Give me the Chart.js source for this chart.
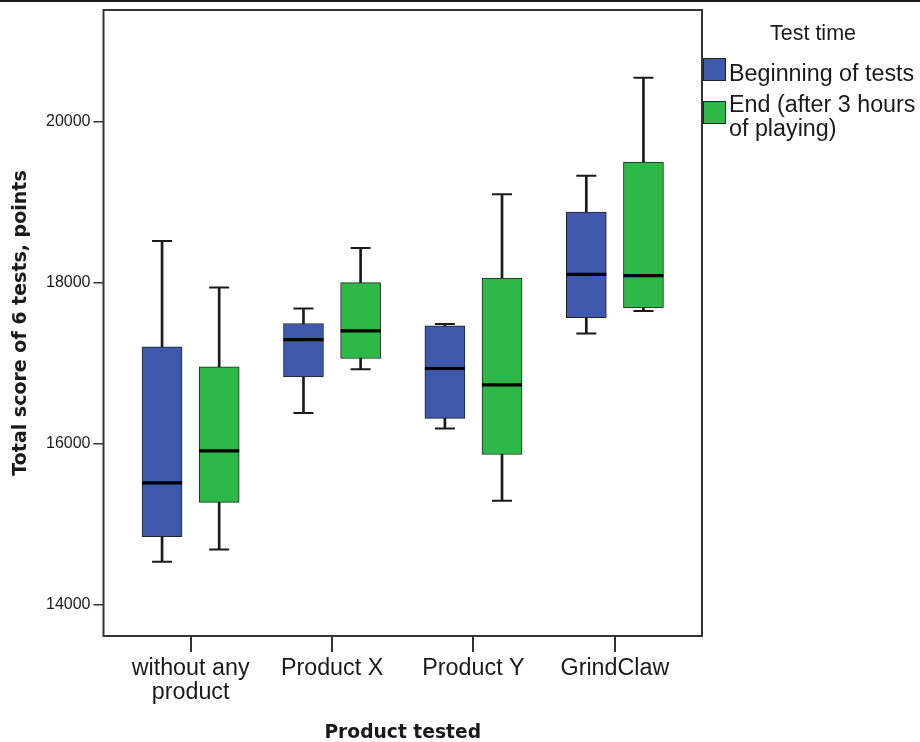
<!DOCTYPE html>
<html>
<head>
<meta charset="utf-8">
<script src="https://cdn.jsdelivr.net/npm/chart.js@4.4.1/dist/chart.umd.min.js"></script>
<style>
  html, body { margin: 0; padding: 0; background: #fff; }
  #wrap { position: relative; width: 920px; height: 742px; overflow: hidden; }
  #topRule { position: absolute; left: 0; top: 0; width: 920px; height: 2px; background: #1a1a1a; }
  #legend { position: absolute; left: 0; top: 0; font-family: "Liberation Sans", Arial, sans-serif; color: #1a1a1a; }
  #legendTitle { position: absolute; left: 713px; top: 21px; width: 200px; text-align: center; font-size: 21.5px; line-height: 24px; white-space: nowrap; }
  .swatch { position: absolute; left: 703px; width: 21px; height: 21px; border: 1px solid #222; }
  .entry { position: absolute; left: 729px; font-size: 23.3px; line-height: 24.5px; white-space: nowrap; }
</style>
</head>
<body>
<div id="wrap">
  <canvas id="chart" width="920" height="742"></canvas>
  <div id="topRule"></div>
  <div id="legend"><div id="legendTitle"></div></div>
</div>
<script>
// Categories and axis labels
const categories = ['without any product', 'Product X', 'Product Y', 'GrindClaw'];
const categoryLabels = [['without any', 'product'], 'Product X', 'Product Y', 'GrindClaw'];
const yTickValues = [14000, 16000, 18000, 20000];
const legendTitle = 'Test time';
const seriesNames = [['Beginning of tests'], ['End (after 3 hours', 'of playing)']];

// Beginning of tests: five-number summaries per product
const beginMin    = [14529, 16380, 16186, 17367];
const beginQ1     = [14840, 16827, 16311, 17565];
const beginMedian = [15511, 17292, 16932, 18103];
const beginQ3     = [17200, 17491, 17461, 18877];
const beginMax    = [18517, 17677, 17486, 19329];

// End (after 3 hours of playing)
const endMin    = [14683, 16923, 15287, 17647];
const endQ1     = [15267, 17056, 15863, 17685];
const endMedian = [15908, 17399, 16728, 18087];
const endQ3     = [16952, 18000, 18057, 19498];
const endMax    = [17938, 18430, 19097, 20547];

const BLUE = '#3E58AC';
const GREEN = '#2EB848';
const INK = '#1a1a1a';
const SIDE = 0.202; // horizontal shift of each box from its category centre (in category units)

const series = [
  { color: BLUE,  shift: -SIDE, min: beginMin, q1: beginQ1, med: beginMedian, q3: beginQ3, max: beginMax },
  { color: GREEN, shift:  SIDE, min: endMin,   q1: endQ1,   med: endMedian,   q3: endQ3,   max: endMax }
];

const datasets = [];
series.forEach(s => {
  const xs = categories.map((c, i) => i + s.shift);
  // whisker stem from minimum to maximum, drawn behind the box
  datasets.push({
    type: 'bar', grouped: false, order: 3, barThickness: 2,
    backgroundColor: INK, borderWidth: 0,
    data: xs.map((x, i) => ({ x, y: [s.min[i], s.max[i]] }))
  });
  // interquartile box
  datasets.push({
    type: 'bar', grouped: false, order: 2, barThickness: 40,
    backgroundColor: s.color, borderColor: '#222', borderWidth: 1, borderSkipped: false,
    data: xs.map((x, i) => ({ x, y: [s.q1[i], s.q3[i]] }))
  });
  // whisker caps
  datasets.push({
    type: 'line', order: 1, showLine: false,
    pointStyle: 'line', pointRadius: 10, pointBorderWidth: 2, pointBorderColor: INK,
    data: xs.map((x, i) => ({ x, y: s.max[i] })).concat(xs.map((x, i) => ({ x, y: s.min[i] })))
  });
  // median line
  datasets.push({
    type: 'line', order: 0, showLine: false,
    pointStyle: 'line', pointRadius: 20, pointBorderWidth: 3.2, pointBorderColor: '#000',
    data: xs.map((x, i) => ({ x, y: s.med[i] }))
  });
});

// plot frame around the chart area
const framePlugin = {
  id: 'frame',
  beforeDatasetsDraw(chart) {
    const { ctx, chartArea: a } = chart;
    ctx.save();
    ctx.strokeStyle = '#333';
    ctx.lineWidth = 2;
    ctx.strokeRect(a.left, a.top, a.right - a.left, a.bottom - a.top);
    ctx.restore();
  }
};

new Chart(document.getElementById('chart'), {
  type: 'bar',
  data: { datasets },
  plugins: [framePlugin],
  options: {
    responsive: false,
    animation: false,
    events: [],
    layout: { autoPadding: false, padding: { left: 0, right: 218, top: 10, bottom: 0 } },
    plugins: { legend: { display: false }, tooltip: { enabled: false } },
    scales: {
      x: {
        type: 'linear',
        min: -0.616, max: 3.616,
        offset: false,
        grid: { offset: false, drawOnChartArea: false, drawTicks: true, tickLength: 16, color: '#333', lineWidth: 2 },
        border: { display: false },
        afterBuildTicks: scale => { scale.ticks = categories.map((c, i) => ({ value: i })); },
        afterFit: scale => { scale.height = 106; scale.paddingLeft = 0; scale.paddingRight = 0; },
        ticks: {
          autoSkip: false, maxRotation: 0, minRotation: 0, padding: 5,
          color: INK,
          font: { family: '"Liberation Sans", Arial, sans-serif', size: 23.3, lineHeight: 1.03 },
          callback: v => categoryLabels[v]
        },
        title: {
          display: true, text: 'Product tested', color: INK,
          font: { family: '"DejaVu Sans", Verdana, sans-serif', size: 18.7, weight: 'bold', lineHeight: 1 },
          padding: { top: 0.5, bottom: 0 }
        }
      },
      y: {
        type: 'linear',
        min: 13606, max: 21389,
        grid: { drawOnChartArea: false, drawTicks: true, tickLength: 10, color: '#333', lineWidth: 1.5 },
        border: { display: false },
        afterBuildTicks: scale => { scale.ticks = yTickValues.map(v => ({ value: v })); },
        afterFit: scale => { scale.width = 103.5; scale.paddingTop = 0; scale.paddingBottom = 0; },
        ticks: {
          padding: 3, color: INK,
          font: { family: '"Liberation Sans", Arial, sans-serif', size: 16 },
          callback: v => String(v)
        },
        title: {
          display: true, text: 'Total score of 6 tests, points', color: INK,
          font: { family: '"DejaVu Sans", Verdana, sans-serif', size: 19, weight: 'bold', lineHeight: 1 },
          padding: { top: 12, bottom: 0 }
        }
      }
    }
  }
});

// legend
const legend = document.getElementById('legend');
document.getElementById('legendTitle').textContent = legendTitle;
const swatchTops = [58, 101];
const entryTops = [60.5, 91.5];
series.forEach((s, k) => {
  const sw = document.createElement('div');
  sw.className = 'swatch';
  sw.style.top = swatchTops[k] + 'px';
  sw.style.background = s.color;
  legend.appendChild(sw);
  const tx = document.createElement('div');
  tx.className = 'entry';
  tx.style.top = entryTops[k] + 'px';
  tx.innerHTML = seriesNames[k].map(t => t.replace(/&/g, '&amp;').replace(/</g, '&lt;')).join('<br>');
  legend.appendChild(tx);
});
</script>
</body>
</html>
